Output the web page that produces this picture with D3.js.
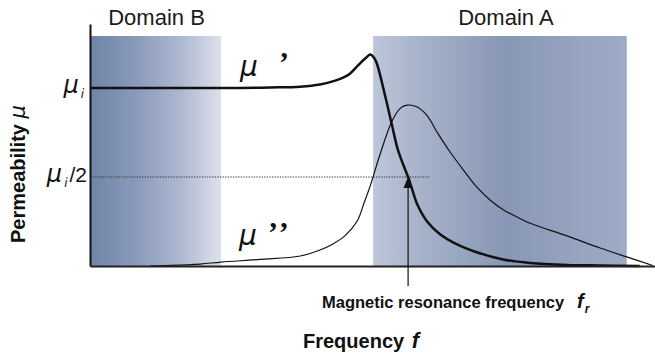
<!DOCTYPE html>
<html>
<head>
<meta charset="utf-8">
<script src="https://cdn.jsdelivr.net/npm/d3@7"></script>
<style>
  html, body { margin: 0; padding: 0; background: #fff; }
  svg { display: block; font-family: "Liberation Sans", Arial, Helvetica, sans-serif; }
  .sym { font-family: "DejaVu Sans", sans-serif; font-style: oblique; }
  .prime { font-family: "Liberation Serif", serif; }
</style>
</head>
<body>
<svg id="chart" width="655" height="353"></svg>
<script>
// Frequency is a relative log scale (0–100); permeability is normalised to μi (= 1).

// Frequency bands
const bandNames = ["Domain B", "Domain A"];
const bandStart = [0, 50.1];
const bandEnd = [23.2, 95.0];

// Real part μ' : [log-frequency, μ'/μi]
const muReal = [
  [0, 1.000], [10.6, 1.000], [19.5, 1.000], [26.5, 1.000], [31.9, 1.003],
  [37.2, 1.008], [40.7, 1.020], [43.4, 1.042], [44.8, 1.059], [46.0, 1.081],
  [47.4, 1.126], [48.7, 1.166], [49.6, 1.188], [50.3, 1.169], [50.8, 1.135],
  [52.2, 0.961], [53.4, 0.798], [54.5, 0.652], [55.4, 0.573], [56.3, 0.500],
  [57.0, 0.433], [57.9, 0.348], [59.6, 0.253], [61.9, 0.180], [64.8, 0.124],
  [68.3, 0.079], [73.1, 0.037], [77.9, 0.017], [84.4, 0.006], [90.3, 0.003],
  [97.3, 0.000]
];

// Imaginary part μ'' : [log-frequency, μ''/μi]
const muImag = [
  [10.6, 0.000], [14.2, 0.003], [19.5, 0.011], [23.2, 0.022], [30.1, 0.037],
  [37.2, 0.056], [40.7, 0.090], [43.0, 0.124], [45.1, 0.169], [47.3, 0.253],
  [48.5, 0.354], [49.6, 0.450], [51.3, 0.624], [53.4, 0.811], [54.9, 0.886],
  [56.1, 0.904], [57.8, 0.895], [59.6, 0.848], [61.4, 0.754], [63.7, 0.642],
  [66.1, 0.539], [68.4, 0.446], [70.8, 0.371], [73.2, 0.315], [75.5, 0.277],
  [77.9, 0.240], [84.4, 0.169], [90.3, 0.101], [95.0, 0.051], [99.6, 0.003]
];

// Y-axis reference levels and their labels: [μ, subscript, suffix]
const yTicks = [1, 0.5];
const yTickLabels = [["μ", "i", ""], ["μ", "i", "/2"]];

// Magnetic resonance frequency fr (where μ' falls to μi/2)
const resonanceFreq = 56.3;

const svg = d3.select("#chart");
const plot = { left: 90, right: 655, top: 24, bottom: 266 };

const x = d3.scaleLinear().domain([0, 100]).range([plot.left, plot.right]);
const y = d3.scaleLinear().domain([0, 1.36]).range([plot.bottom, plot.top]);
const bandTop = 36;

// gradients for the two shaded frequency bands
const defs = svg.append("defs");
const gradStops = [
  [[0, "#6f84a7"], [0.35, "#8a9aba"], [0.7, "#aeb9d1"], [1, "#dde1ec"]],
  [[0, "#bdc6da"], [0.15, "#abb6cd"], [0.52, "#8897b5"], [0.8, "#96a4c0"], [1, "#9eabc6"]]
];
gradStops.forEach((stops, i) => {
  const g = defs.append("linearGradient")
    .attr("id", "band" + i).attr("x1", 0).attr("x2", 1).attr("y1", 0).attr("y2", 0);
  stops.forEach(([o, c]) => g.append("stop").attr("offset", o).attr("stop-color", c));
});

bandNames.forEach((name, i) => {
  svg.append("rect")
    .attr("x", x(bandStart[i]))
    .attr("y", bandTop)
    .attr("width", x(bandEnd[i]) - x(bandStart[i]))
    .attr("height", y(0) - bandTop)
    .attr("fill", `url(#band${i})`);
  svg.append("text")
    .attr("x", (x(bandStart[i]) + x(bandEnd[i])) / 2 + (i === 1 ? 6 : 1))
    .attr("y", 25)
    .attr("text-anchor", "middle")
    .attr("font-size", 22)
    .attr("fill", "#1a1a1a")
    .text(name);
});

// dotted μi/2 reference line, running to the resonance region
svg.append("line")
  .attr("x1", x(0)).attr("x2", x(60))
  .attr("y1", y(0.5)).attr("y2", y(0.5))
  .attr("stroke", "#333").attr("stroke-width", 1)
  .attr("stroke-dasharray", "1.3,1.3");

// curves
const line = d3.line()
  .x(d => x(d[0]))
  .y(d => y(d[1]))
  .curve(d3.curveCatmullRom.alpha(0.5));

svg.append("path")
  .datum(muImag)
  .attr("d", line)
  .attr("fill", "none")
  .attr("stroke", "#111")
  .attr("stroke-width", 1.2);

svg.append("path")
  .datum(muReal)
  .attr("d", line)
  .attr("fill", "none")
  .attr("stroke", "#111")
  .attr("stroke-width", 2.5)
  .attr("stroke-linejoin", "round");

// axes (lines only)
svg.append("g")
  .attr("transform", `translate(${plot.left},0)`)
  .call(d3.axisLeft(y).tickValues([]).tickSizeOuter(0))
  .call(g => g.select(".domain").attr("stroke", "#111").attr("stroke-width", 2));

svg.append("g")
  .attr("transform", `translate(0,${plot.bottom})`)
  .call(d3.axisBottom(x).tickValues([]).tickSizeOuter(0))
  .call(g => g.select(".domain").attr("stroke", "#222").attr("stroke-width", 2));

// y reference labels μi and μi/2
yTicks.forEach((v, i) => {
  const [sym, sub, suffix] = yTickLabels[i];
  const t = svg.append("text")
    .attr("x", suffix ? 87 : 84)
    .attr("y", y(v) + 5)
    .attr("text-anchor", "end")
    .attr("fill", "#111");
  t.append("tspan").attr("class", "sym").attr("font-size", 24).text(sym);
  t.append("tspan").attr("class", "sym").attr("font-size", 12)
    .attr("dx", 2).attr("dy", 5).text(sub);
  if (suffix) {
    t.append("tspan").attr("font-size", 21).attr("dx", 2).attr("dy", -5).text(suffix);
  }
});

// series labels μ' and μ''
svg.append("text").attr("class", "sym").attr("x", 240).attr("y", 76)
  .attr("font-size", 28).attr("fill", "#111").text("μ");
svg.append("text").attr("class", "prime").attr("x", 279).attr("y", 72)
  .attr("font-size", 30).attr("font-weight", "bold").attr("fill", "#111").text("’");
svg.append("text").attr("class", "sym").attr("x", 239).attr("y", 245)
  .attr("font-size", 28).attr("fill", "#111").text("μ");
svg.append("text").attr("class", "prime").attr("x", 268).attr("y", 242)
  .attr("font-size", 30).attr("font-weight", "bold").attr("letter-spacing", 3)
  .attr("fill", "#111").text("’’");

// resonance arrow
const fx = x(resonanceFreq), fy = y(0.5);
svg.append("line")
  .attr("x1", fx).attr("x2", fx)
  .attr("y1", fy + 8).attr("y2", 286)
  .attr("stroke", "#111").attr("stroke-width", 1.2);
svg.append("path")
  .attr("d", `M${fx},${fy} L${fx - 4.6},${fy + 11} L${fx + 4.6},${fy + 11} Z`)
  .attr("fill", "#111");

const res = svg.append("text")
  .attr("x", 322).attr("y", 308).attr("fill", "#111");
res.append("tspan").attr("font-size", 16.5).attr("font-weight", "bold")
  .text("Magnetic resonance frequency");
res.append("tspan").attr("x", 577).attr("font-size", 20).attr("font-weight", "bold")
  .attr("font-style", "italic").text("f");
res.append("tspan").attr("font-size", 12).attr("font-weight", "bold")
  .attr("font-style", "italic").attr("dx", 1).attr("dy", 5).text("r");

// axis titles
const xt = svg.append("text").attr("x", 303).attr("y", 348).attr("fill", "#111");
xt.append("tspan").attr("font-size", 20).attr("font-weight", "bold").text("Frequency ");
xt.append("tspan").attr("font-size", 22).attr("font-weight", "bold")
  .attr("font-style", "italic").attr("dx", 2).text("f");

const yt = svg.append("text")
  .attr("transform", "translate(25,243) rotate(-90)")
  .attr("fill", "#111");
yt.append("tspan").attr("font-size", 20).attr("font-weight", "bold").text("Permeability ");
yt.append("tspan").attr("class", "sym").attr("font-size", 21).text("μ");
</script>
</body>
</html>
